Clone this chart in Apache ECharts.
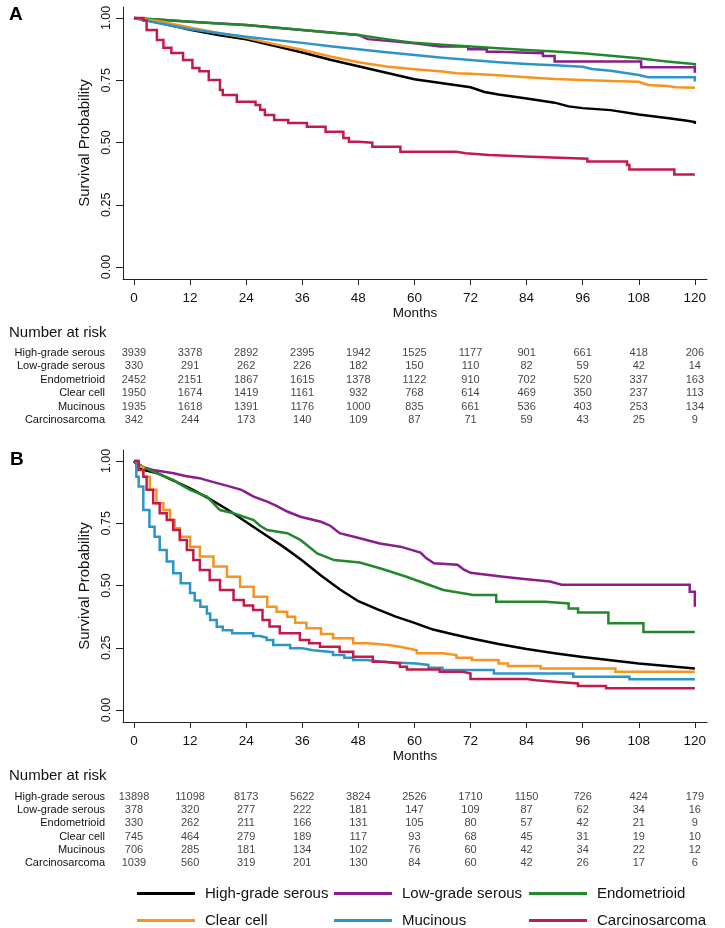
<!DOCTYPE html>
<html>
<head>
<meta charset="utf-8">
<script src="https://cdn.jsdelivr.net/npm/echarts@6/dist/echarts.min.js"></script>
<style>
html,body{margin:0;padding:0;background:#fff;}
#chart{width:725px;height:928px;}
</style>
</head>
<body>
<div id="chart"></div>
<script>
// ---------- data ----------
const seriesNames = ['High-grade serous','Low-grade serous','Endometrioid','Clear cell','Mucinous','Carcinosarcoma'];
const monthTicks = [0,12,24,36,48,60,72,84,96,108,120];
const yTicks = [0,0.25,0.5,0.75,1];

// Panel A survival curves [month, survival]
const A_HGS = [[0,1],[3,.99],[6,.978],[9,.966],[12,.953],[18,.932],[24,.914],[30,.888],[36,.861],[42,.832],[48,.806],[54,.78],[60,.754],[66,.738],[72,.722],[75,.703],[78,.693],[84,.677],[90,.66],[93,.645],[96,.638],[102,.63],[108,.612],[114,.598],[118,.588],[120,.582],[120,.574]];
const A_LGS = [[0,1],[12,.985],[24,.972],[36,.952],[48,.932],[50,.915],[56,.905],[60,.898],[65.5,.885],[71.5,.885],[71.5,.874],[75.5,.874],[75.5,.864],[78,.864],[78,.858],[87.5,.858],[87.5,.847],[90,.847],[90,.825],[108.5,.825],[108.5,.802],[120,.802],[120,.78]];
const A_END = [[0,1],[3,.996],[6,.993],[9,.989],[12,.985],[18,.978],[24,.972],[30,.962],[36,.952],[42,.942],[48,.932],[54,.915],[60,.9],[66,.892],[72,.885],[78,.878],[84,.871],[90,.865],[96,.858],[102,.848],[108,.838],[114,.825],[118,.818],[120,.815],[120,.808]];
const A_CC = [[0,1],[3,.993],[6,.985],[9,.973],[12,.962],[18,.94],[24,.92],[30,.895],[36,.872],[42,.845],[48,.822],[54,.805],[60,.794],[66,.785],[69,.778],[72,.776],[78,.77],[84,.762],[90,.755],[96,.751],[102,.747],[108,.744],[110,.731],[114,.727],[116,.722],[120,.72]];
const A_MUC = [[0,1],[3,.988],[6,.977],[9,.966],[12,.955],[18,.94],[24,.925],[30,.912],[36,.9],[42,.886],[48,.874],[54,.862],[60,.851],[66,.84],[72,.831],[78,.822],[84,.815],[90,.81],[96,.804],[98,.795],[102,.788],[108,.771],[110,.762],[120,.762],[120,.745]];
const A_CS = [[0,1],[2,.99],[2.7,.952],[4.9,.912],[6.3,.88],[8,.859],[10.5,.831],[12.5,.799],[14,.786],[16,.751],[18.4,.711],[19,.691],[22,.664],[26,.651],[27,.631],[28,.61],[30,.59],[33,.578],[37,.563],[41,.543],[44.8,.518],[46,.503],[48,.499],[51,.483],[57,.463],[69,.457],[71,.45],[76,.443],[85,.435],[97,.424],[105.5,.41],[106,.392],[115.6,.372],[120,.372]];

// Panel B survival curves
const B_HGS = [[0,1],[1,.975],[2,.964],[5,.951],[8,.925],[12,.89],[16,.85],[20,.805],[24,.755],[28,.705],[32,.655],[36,.6],[40,.54],[44,.485],[48,.437],[52,.405],[56,.375],[60,.35],[64,.323],[68,.305],[72,.288],[78,.265],[84,.245],[90,.228],[96,.213],[102,.2],[108,.187],[114,.177],[120,.167]];
const B_LGS = [[0,1],[2,.975],[4,.964],[8.5,.951],[11,.94],[14,.931],[17,.915],[20,.9],[23,.884],[25.6,.857],[28.5,.837],[30.5,.82],[32.8,.797],[35.6,.776],[40,.756],[42,.74],[44,.71],[48.3,.69],[52.6,.669],[57,.656],[59,.645],[61.3,.632],[62.5,.61],[64.2,.589],[69.2,.583],[70.5,.565],[72,.551],[79,.535],[84,.525],[89,.516],[91.5,.503],[118.9,.503],[118.9,.475],[120,.475],[120,.415]];
const B_END = [[0,1],[2,.975],[4.8,.951],[8.4,.924],[10,.905],[12,.884],[15.6,.857],[17,.83],[18.4,.803],[21.3,.79],[25.6,.763],[27,.74],[28.5,.723],[32.8,.71],[35.6,.683],[37.5,.655],[39.2,.629],[42.8,.602],[48.3,.592],[52.6,.569],[55,.555],[58.3,.535],[62,.51],[66.2,.482],[72.6,.462],[77.5,.462],[77.5,.435],[88,.435],[88,.428],[93,.428],[93,.408],[95,.408],[95,.392],[101.5,.392],[101.5,.348],[109,.348],[109,.313],[120,.313]];
const B_CC = [[0,1],[1,.977],[2,.937],[3.4,.884],[4.8,.83],[6.3,.803],[7.7,.763],[8.7,.73],[9.8,.696],[12,.656],[14.1,.616],[17,.576],[19.9,.535],[22.7,.495],[25.6,.455],[28.5,.415],[30.5,.395],[32.8,.375],[34.5,.35],[36.9,.328],[40,.305],[42.6,.288],[46.9,.268],[50,.261],[54.5,.254],[56.9,.248],[58.5,.24],[60.5,.228],[66,.221],[69,.21],[72.3,.201],[78,.187],[80,.177],[87,.167],[103,.154],[120,.154]];
const B_MUC = [[0,1],[0.5,.937],[1,.897],[2,.803],[3.3,.736],[4.4,.696],[5.5,.643],[7,.596],[8.4,.549],[10,.509],[12,.47],[13,.44],[14.2,.415],[15.6,.388],[16.3,.361],[17.7,.334],[19,.32],[21,.308],[25.5,.297],[27,.29],[28.4,.281],[29.8,.261],[33.4,.248],[36,.24],[38.3,.232],[42.6,.221],[45,.21],[46.9,.201],[49.8,.194],[53,.19],[56.9,.187],[60.4,.181],[63,.17],[66,.161],[77,.147],[94,.134],[106,.124],[120,.124]];
const B_CS = [[0,1],[1,.964],[2,.937],[2.7,.884],[4.1,.83],[5.5,.79],[7,.763],[8.4,.723],[9.8,.683],[11.3,.643],[12.7,.602],[14.1,.562],[16.2,.522],[18.4,.482],[21.3,.442],[23.5,.42],[25.5,.402],[27.5,.361],[29,.335],[31.2,.308],[35.5,.281],[37.5,.268],[39.8,.254],[44,.234],[46.9,.214],[51.1,.194],[53.5,.187],[56.9,.174],[58.4,.163],[65.4,.154],[70.4,.147],[72,.125],[84,.12],[86,.114],[90,.107],[95,.097],[101,.087],[120,.087]];

// Number at risk tables
const riskA_HGS = [3939,3378,2892,2395,1942,1525,1177,901,661,418,206];
const riskA_LGS = [330,291,262,226,182,150,110,82,59,42,14];
const riskA_END = [2452,2151,1867,1615,1378,1122,910,702,520,337,163];
const riskA_CC  = [1950,1674,1419,1161,932,768,614,469,350,237,113];
const riskA_MUC = [1935,1618,1391,1176,1000,835,661,536,403,253,134];
const riskA_CS  = [342,244,173,140,109,87,71,59,43,25,9];
const riskB_HGS = [13898,11098,8173,5622,3824,2526,1710,1150,726,424,179];
const riskB_LGS = [378,320,277,222,181,147,109,87,62,34,16];
const riskB_END = [330,262,211,166,131,105,80,57,42,21,9];
const riskB_CC  = [745,464,279,189,117,93,68,45,31,19,10];
const riskB_MUC = [706,285,181,134,102,76,60,42,34,22,12];
const riskB_CS  = [1039,560,319,201,130,84,60,42,26,17,6];

// ---------- style ----------
const colors = ['#000000','#8B1C8B','#23882B','#F7941E','#2B95C9','#C41A4B'];
const stepA = [false,false,false,false,false,'end'];
const stepB = [false,false,false,'end','end','end'];
const FONT = '"Liberation Sans", Arial, sans-serif';
const X_MIN = -2.35, X_MAX = 122.6, Y_MIN = -0.048, Y_MAX = 1.044;

const curvesA = [A_HGS, A_LGS, A_END, A_CC, A_MUC, A_CS];
const curvesB = [B_HGS, B_LGS, B_END, B_CC, B_MUC, B_CS];
const riskA = [riskA_HGS, riskA_LGS, riskA_END, riskA_CC, riskA_MUC, riskA_CS];
const riskB = [riskB_HGS, riskB_LGS, riskB_END, riskB_CC, riskB_MUC, riskB_CS];

function plotX(gi) {
  return {
    type:'value', gridIndex:gi, min:X_MIN, max:X_MAX,
    name:'Months', nameLocation:'middle', nameGap:25,
    nameTextStyle:{fontFamily:FONT, fontSize:13.5, color:'#111'},
    axisLine:{show:true, onZero:false, lineStyle:{color:'#222', width:1}},
    axisTick:{show:true, length:6, customValues:monthTicks, lineStyle:{color:'#222'}},
    axisLabel:{show:true, customValues:monthTicks, margin:12, fontFamily:FONT, fontSize:13.5, color:'#111'},
    splitLine:{show:false}
  };
}
function plotY(gi) {
  return {
    type:'value', gridIndex:gi, min:Y_MIN, max:Y_MAX,
    name:'Survival Probability', nameLocation:'middle', nameGap:31, nameRotate:90,
    nameTextStyle:{fontFamily:FONT, fontSize:15, color:'#111'},
    axisLine:{show:true, onZero:false, lineStyle:{color:'#222', width:1}},
    axisTick:{show:true, length:7, customValues:yTicks, lineStyle:{color:'#222'}},
    axisLabel:{show:true, customValues:yTicks, rotate:90, margin:10, fontFamily:FONT, fontSize:12.5, color:'#111',
      formatter:v=>Number(v).toFixed(2)},
    splitLine:{show:false}
  };
}
function tableX(gi){ return {type:'value', gridIndex:gi, min:X_MIN, max:X_MAX, show:false}; }
function tableY(gi){
  return {type:'category', gridIndex:gi, data:seriesNames, inverse:true,
    axisLine:{show:false}, axisTick:{show:false}, splitLine:{show:false},
    axisLabel:{interval:0, margin:18, fontFamily:FONT, fontSize:11, color:'#111'}};
}

const series = [];
function addCurves(curves, steps, gi) {
  curves.forEach((c, i) => {
    series.push({
      name:seriesNames[i], type:'line', xAxisIndex:gi, yAxisIndex:gi,
      data:c, step:steps[i], symbol:'none', showSymbol:false,
      lineStyle:{color:colors[i], width:2.5, join:'miter'}, itemStyle:{color:colors[i]},
      z: 2 + i
    });
  });
}
function addRisk(risk, gi) {
  const data = [];
  risk.forEach((row, i) => row.forEach((n, j) => data.push([monthTicks[j], seriesNames[i], n])));
  series.push({
    type:'scatter', xAxisIndex:gi, yAxisIndex:gi, data:data, symbolSize:1,
    itemStyle:{color:'rgba(0,0,0,0)'}, silent:true,
    label:{show:true, position:'inside', formatter:p=>String(p.value[2]), fontFamily:FONT, fontSize:11, color:'#111'}
  });
}
addCurves(curvesA, stepA, 0);
addRisk(riskA, 1);
addCurves(curvesB, stepB, 2);
addRisk(riskB, 3);

const legendPos = [[137,886],[334,886],[529,886],[137,913],[334,913],[529,913]];
const legends = seriesNames.map((n, i) => ({
  data:[n], left:legendPos[i][0], top:legendPos[i][1], padding:0,
  itemWidth:58, itemHeight:14, icon:'path://M0,5.5 L58,5.5 L58,8.5 L0,8.5 Z',
  itemStyle:{color:colors[i]},
  textStyle:{fontFamily:FONT, fontSize:15, color:'#111', padding:[0,0,0,5]}
}));

const option = {
  animation:false,
  backgroundColor:'#fff',
  grid:[
    {left:123, right:18, top:7, height:272},
    {left:123, right:18, top:346.3, height:80.4},
    {left:123, right:18, top:450, height:272},
    {left:123, right:18, top:790.4, height:79.2}
  ],
  xAxis:[plotX(0), tableX(1), plotX(2), tableX(3)],
  yAxis:[plotY(0), tableY(1), plotY(2), tableY(3)],
  legend:legends,
  series:series,
  graphic:[
    {type:'text', left:9, top:5, style:{text:'A', font:'bold 19px '+FONT, fill:'#000'}},
    {type:'text', left:10, top:450, style:{text:'B', font:'bold 19px '+FONT, fill:'#000'}},
    {type:'text', left:9, top:325, style:{text:'Number at risk', font:'15px '+FONT, fill:'#111'}},
    {type:'text', left:9, top:768, style:{text:'Number at risk', font:'15px '+FONT, fill:'#111'}}
  ]
};
const chart = echarts.init(document.getElementById('chart'), null, {renderer:'canvas'});
chart.setOption(option);
</script>
</body>
</html>
